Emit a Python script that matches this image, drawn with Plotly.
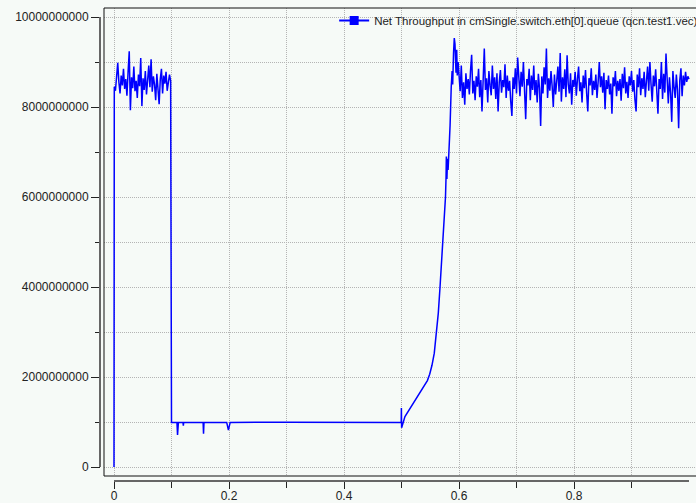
import numpy as np
import plotly.graph_objects as go

# ---------------- data (values in units of 1e9 bit/s) ----------------
start_t = [0.0]
start_v = [0.0]

# first high-throughput burst, 0 .. 0.1 s
burst1_v = [
    8.45, 8.36, 8.62, 8.98, 8.55, 8.30, 8.70, 8.48, 8.85, 8.40,
    8.62, 8.25, 8.78, 9.24, 7.93, 8.66, 8.42, 8.90, 8.35, 8.58,
    8.20, 8.72, 8.46, 9.09, 8.02, 8.64, 8.38, 8.80, 8.28, 8.55,
    8.92, 8.44, 9.06, 8.34, 8.68, 8.50, 8.15, 8.74, 8.40, 8.06,
    8.62, 8.85, 8.30, 8.70, 8.52, 8.78, 8.36, 8.60, 8.72, 8.58,
]
burst1_t = list(np.round(0.0005 + 0.002 * np.arange(len(burst1_v)), 4))

# throttled phase and recovery ramp
low_t = [0.1000, 0.1095, 0.1105, 0.1120, 0.1200, 0.1206, 0.1212, 0.1550,
         0.1557, 0.1565, 0.1960, 0.1990, 0.2020, 0.3000, 0.4000, 0.4995,
         0.4998, 0.5002, 0.5060, 0.5120, 0.5180, 0.5240, 0.5290, 0.5350,
         0.5410, 0.5450, 0.5490, 0.5530, 0.5570, 0.5610, 0.5640, 0.5670, 0.5700,
         0.5727, 0.5757, 0.5765, 0.5775, 0.5780, 0.5790, 0.5800, 0.5810,
         0.5826, 0.5835, 0.5845, 0.5855, 0.5865, 0.5880, 0.5890, 0.5905,
         0.5918, 0.5930, 0.5948, 0.5960, 0.5970, 0.5985]
low_v = [0.99, 0.99, 0.71, 0.99, 0.99, 0.92, 0.99, 0.99,
         0.74, 0.99, 0.99, 0.82, 0.99, 0.995, 0.99, 0.99,
         1.31, 0.87, 1.12, 1.24, 1.37, 1.48, 1.58, 1.70,
         1.82, 1.92, 2.06, 2.26, 2.53, 2.97, 3.42, 4.00, 4.60,
         5.12, 5.64, 6.00, 6.45, 6.90, 6.40, 6.85, 6.60,
         6.90, 7.30, 7.60, 8.30, 8.45, 8.80, 8.50, 9.20,
         9.53, 9.40, 8.76, 9.27, 8.70, 9.00]

# second high-throughput phase, 0.6 .. 1.0 s
burst2_v = [
    8.70, 8.35, 8.92, 8.20, 8.55, 8.05, 8.75, 8.40, 8.62, 8.28,
    8.80, 9.16, 8.30, 8.58, 8.15, 8.68, 8.45, 8.85, 8.22, 8.60,
    7.90, 8.72, 9.30, 8.38, 8.64, 8.10, 8.80, 8.48, 8.26, 8.92,
    8.40, 8.66, 8.18, 8.75, 7.90, 8.55, 8.82, 8.32, 8.60, 8.44,
    8.95, 8.20, 8.70, 8.36, 8.58, 8.12, 7.80, 8.66, 8.40, 8.86,
    8.30, 9.10, 8.52, 8.24, 8.78, 8.45, 9.00, 8.35, 7.73, 8.62,
    8.48, 8.85, 8.15, 8.70, 8.38, 8.92, 8.26, 8.60, 8.10, 8.74,
    8.42, 7.58, 8.68, 8.30, 8.88, 8.50, 9.30, 8.20, 8.64, 8.36,
    8.80, 8.46, 8.00, 8.72, 8.28, 8.58, 8.90, 8.34, 9.20, 8.12,
    8.66, 8.40, 8.84, 8.22, 9.15, 8.50, 8.30, 8.75, 8.05, 8.60,
    8.45, 8.78, 8.25, 8.62, 8.90, 8.35, 8.55, 8.10, 8.70, 8.42,
    8.82, 8.30, 7.90, 8.64, 8.48, 8.86, 8.26, 8.58, 8.38, 8.72,
    8.20, 8.56, 9.00, 8.44, 8.68, 8.32, 8.76, 7.95, 8.60, 8.40,
    8.70, 8.28, 8.52, 7.85, 8.66, 8.46, 8.80, 8.24, 8.58, 8.36,
    8.62, 8.14, 8.74, 8.42, 8.88, 8.30, 8.56, 8.20, 8.68, 8.48,
    8.80, 8.34, 8.60, 8.16, 7.90, 8.72, 8.44, 8.86, 8.26, 8.64,
    8.40, 8.78, 8.22, 8.58, 8.90, 8.36, 9.00, 8.50, 8.12, 8.70,
    8.46, 8.84, 8.28, 7.85, 8.62, 8.40, 9.00, 8.18, 8.74, 8.32,
    9.19, 8.50, 8.08, 8.66, 8.30, 7.67, 8.80, 8.44, 8.20, 8.72,
    8.38, 7.53, 8.60, 8.86, 8.24, 8.70, 8.48, 8.78, 8.56, 8.68,
    8.62,
]
burst2_t = list(np.round(0.600 + 0.002 * np.arange(len(burst2_v)), 4))

series_name = "Net Throughput in cmSingle.switch.eth[0].queue (qcn.test1.vec)"

x_major = [0, 0.2, 0.4, 0.6, 0.8]
x_major_text = ["0", "0.2", "0.4", "0.6", "0.8"]
x_minor = [0.1, 0.3, 0.5, 0.7, 0.9]
y_major = [0, 2e9, 4e9, 6e9, 8e9, 1e10]
y_major_text = ["0", "2000000000", "4000000000", "6000000000", "8000000000", "10000000000"]
y_minor = [1e9, 3e9, 5e9, 7e9, 9e9]

UNIT = 1e9
t_all = start_t + burst1_t + low_t + burst2_t
v_all = [v * UNIT for v in (start_v + burst1_v + low_v + burst2_v)]

# ---------------- figure ----------------
BG = "#f6faf7"
GRID = "#b4b4b4"
GDASH = "1px,1px"
FONT = "Liberation Sans, Arial, Helvetica, sans-serif"

fig = go.Figure()
fig.add_trace(go.Scatter(x=t_all, y=v_all, mode="lines",
                         line=dict(color="#0000ff", width=1.5),
                         showlegend=False, hoverinfo="skip"))
fig.add_trace(go.Scatter(x=[None], y=[None], mode="lines+markers", name=series_name,
                         line=dict(color="#0000ff", width=2),
                         marker=dict(color="#0000ff", symbol="square", size=9)))

L, R, T, B = 100, 0, 8, 22
W, H = 696, 503
pw, ph = W - L - R, H - T - B
xd0 = 4 / pw
yd0 = 5 / ph

fig.update_layout(
    width=W, height=H,
    margin=dict(l=L, r=R, t=T, b=B, pad=0, autoexpand=False),
    paper_bgcolor=BG, plot_bgcolor=BG,
    font=dict(family=FONT, size=12, color="#222"),
    legend=dict(x=1.012, xanchor="right", y=1.004, yanchor="top",
                bgcolor="rgba(0,0,0,0)", font=dict(size=11.5, color="#222"),
                itemwidth=30, borderwidth=0),
    xaxis=dict(domain=[xd0, 1], anchor="free", position=0, automargin=False,
               range=[-0.01739, 1.01217],
               tickmode="array", tickvals=x_major, ticktext=x_major_text,
               ticks="outside", ticklen=7, tickwidth=1, tickcolor="#222",
               ticklabelstandoff=-3,
               showgrid=True, gridcolor=GRID, griddash=GDASH, gridwidth=1,
               minor=dict(tickmode="array", tickvals=x_minor, ticks="outside",
                          ticklen=6, tickwidth=1, tickcolor="#222",
                          showgrid=True, gridcolor=GRID, griddash=GDASH, gridwidth=1),
               showline=False, zeroline=False),
    yaxis=dict(domain=[yd0, 1], anchor="free", position=0, automargin=False,
               range=[-0.2e9, 10.2e9],
               tickmode="array", tickvals=y_major, ticktext=y_major_text,
               ticks="outside", ticklen=9, tickwidth=1, tickcolor="#222",
               showgrid=True, gridcolor=GRID, griddash=GDASH, gridwidth=1,
               minor=dict(tickmode="array", tickvals=y_minor, ticks="outside",
                          ticklen=5, tickwidth=1, tickcolor="#222",
                          showgrid=True, gridcolor=GRID, griddash=GDASH, gridwidth=1),
               showline=False, zeroline=False),
)

# detached axis lines
fig.add_shape(type="line", xref="x", yref="paper", x0=0, x1=1.0, y0=0, y1=0,
              line=dict(color="#666", width=2))
fig.add_shape(type="line", xref="paper", yref="y", x0=0, x1=0, y0=0, y1=1e10,
              line=dict(color="#666", width=2))
# plot frame (left, bottom, top)
frame = dict(color="#111", width=1)
fig.add_shape(type="line", xref="paper", yref="paper", x0=xd0, x1=xd0, y0=yd0, y1=1, line=frame)
fig.add_shape(type="line", xref="paper", yref="paper", x0=xd0, x1=1, y0=yd0, y1=yd0, line=frame)
fig.add_shape(type="line", xref="paper", yref="paper", x0=xd0, x1=1, y0=1, y1=1, line=frame)

fig.write_html("out.html")
